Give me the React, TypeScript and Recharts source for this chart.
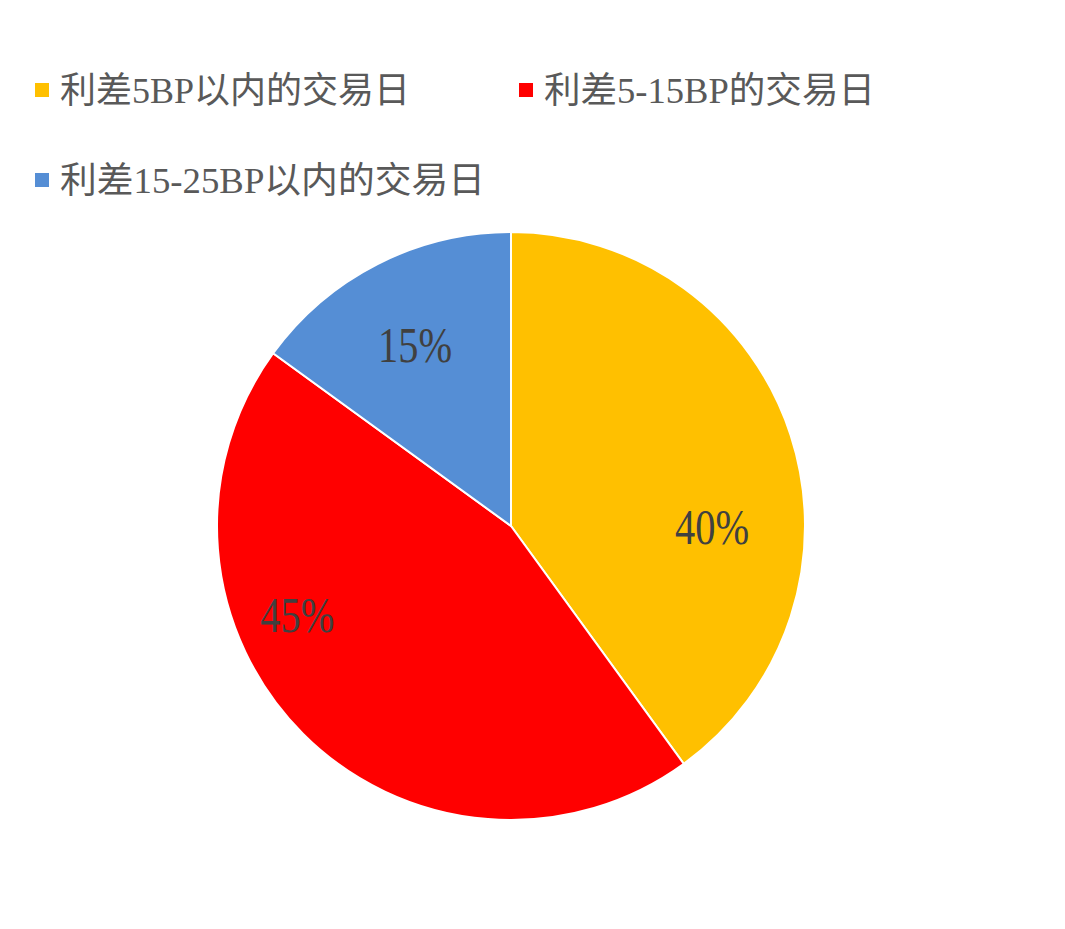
import React from 'react';
import { PieChart, Pie, Cell, Legend } from 'recharts';

// 利差分布 — 交易日占比
const categories = ['利差5BP以内的交易日', '利差5-15BP的交易日', '利差15-25BP以内的交易日'];
const shares = [40, 45, 15];
const colors = ['#FFC000', '#FF0000', '#558ED5'];

// Excel "best fit" style label placement (angle shift in deg, radius fraction)
const labelShift = [-18, -22.6, 0.8];
const labelRadius = [0.684, 0.786, 0.70];

// legend layout (x, y of square, text width)
const legendSpots = [
  { x: 35, y: 83, w: 350 },
  { x: 519, y: 83, w: 331 },
  { x: 35, y: 173, w: 425 },
];

const data = categories.map((name, i) => ({ name, value: shares[i] }));

const RAD = Math.PI / 180;

const renderLabel = (p: any) => {
  const i = p.index;
  const a = (p.midAngle + labelShift[i]) * RAD;
  const r = p.outerRadius * labelRadius[i];
  const x = p.cx + r * Math.cos(a);
  const y = p.cy - r * Math.sin(a);
  return (
    <text
      x={x}
      y={y + 1}
      textAnchor="middle"
      dominantBaseline="central"
      fill="#404040"
      fontSize={50}
      fontFamily="'Liberation Serif', 'DejaVu Serif', serif"
      textLength={74}
      lengthAdjust="spacingAndGlyphs"
    >
      {`${shares[i]}%`}
    </text>
  );
};

const renderLegend = () => (
  <svg width={1065} height={210} style={{ display: 'block' }}>
    {categories.map((name, i) => {
      const s = legendSpots[i];
      return (
        <g key={name}>
          <rect x={s.x} y={s.y} width={14} height={14} fill={colors[i]} />
          <text
            x={s.x + 25}
            y={s.y + 8}
            dominantBaseline="central"
            fill="#595959"
            fontSize={36}
            fontFamily="'Liberation Serif', 'Noto Sans CJK SC', serif"
            textLength={s.w}
            lengthAdjust="spacingAndGlyphs"
          >
            {name}
          </text>
        </g>
      );
    })}
  </svg>
);

export default function App() {
  return (
    <div style={{ position: 'absolute', left: 0, top: 0, width: 1065, height: 929, background: '#fff' }}>
      <PieChart width={1065} height={929} margin={{ top: 0, right: 0, bottom: 0, left: 0 }}>
        <Legend
          content={renderLegend}
          wrapperStyle={{ position: 'absolute', left: 0, top: 0, width: 1065, height: 210 }}
        />
        <Pie
          data={data}
          dataKey="value"
          nameKey="name"
          cx={511}
          cy={526}
          outerRadius={294}
          startAngle={90}
          endAngle={-270}
          stroke="#ffffff"
          strokeWidth={2}
          label={renderLabel}
          labelLine={false}
          isAnimationActive={false}
        >
          {data.map((d, i) => (
            <Cell key={d.name} fill={colors[i]} />
          ))}
        </Pie>
      </PieChart>
    </div>
  );
}
